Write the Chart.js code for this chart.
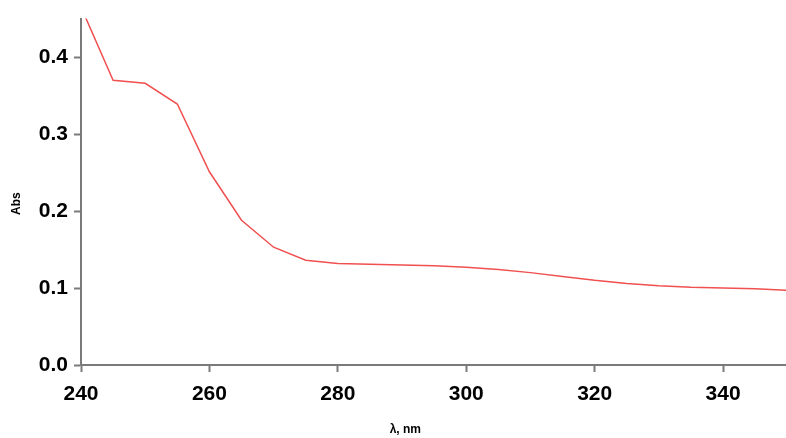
<!DOCTYPE html>
<html>
<head>
<meta charset="utf-8">
<style>
  html, body { margin: 0; padding: 0; background: #fff; }
  canvas { display: block; }
</style>
<script src="https://cdn.jsdelivr.net/npm/chart.js@4/dist/chart.umd.min.js"></script>
</head>
<body>
<canvas id="chart" width="786" height="438"></canvas>
<script>
// wavelength (nm) and absorbance
const wavelengths = [240, 245, 250, 255, 260, 265, 270, 275, 280, 285, 290, 295,
                     300, 305, 310, 315, 320, 325, 330, 335, 340, 345, 350];
const absorbance = [0.465, 0.370, 0.366, 0.339, 0.251, 0.188, 0.153, 0.136, 0.132, 0.131, 0.130, 0.129,
                    0.127, 0.124, 0.120, 0.115, 0.110, 0.106, 0.103, 0.101, 0.100, 0.099, 0.097];
const xTicks = [240, 260, 280, 300, 320, 340];
const yTicks = [0.0, 0.1, 0.2, 0.3, 0.4];

const tickFont = { family: "'Liberation Sans', Arial, sans-serif", size: 21, weight: "bold" };
const titleFont = "bold 12px 'Liberation Sans', Arial, sans-serif";

// axis titles, placed like the original plot
const axisTitles = {
    id: "axisTitles",
    afterDraw(chart) {
        const ctx = chart.ctx;
        const area = chart.chartArea;
        ctx.save();
        ctx.fillStyle = "#000";
        ctx.font = titleFont;
        ctx.textAlign = "center";
        ctx.textBaseline = "middle";
        ctx.fillText("λ, nm", area.left + (area.right - area.left) * 0.46, 430);
        ctx.translate(17, area.top + (area.bottom - area.top) * 0.534);
        ctx.rotate(-Math.PI / 2);
        ctx.fillText("Abs", 0, 0);
        ctx.restore();
    }
};

new Chart(document.getElementById("chart").getContext("2d"), {
    type: "line",
    data: {
        datasets: [{
            data: wavelengths.map((w, i) => ({ x: w, y: absorbance[i] })),
            borderColor: "#f0504f",
            borderWidth: 1.5,
            pointRadius: 0,
            tension: 0,
            fill: false
        }]
    },
    options: {
        responsive: false,
        animation: false,
        layout: { padding: { top: 18, right: 0, left: 0, bottom: 0 } },
        plugins: { legend: { display: false }, tooltip: { enabled: false } },
        scales: {
            x: {
                type: "linear",
                min: 240,
                max: 349.8,
                afterBuildTicks: (axis) => { axis.ticks = xTicks.map(v => ({ value: v })); },
                afterFit: (axis) => { axis.height = 73; },
                border: { color: "#7a7a7a", width: 2 },
                grid: { drawOnChartArea: false, tickLength: 7, color: "#7a7a7a", tickWidth: 2 },
                ticks: { color: "#000", font: tickFont, padding: 10, maxRotation: 0 }
            },
            y: {
                min: 0,
                max: 0.45,
                afterBuildTicks: (axis) => { axis.ticks = yTicks.map(v => ({ value: v })); },
                afterFit: (axis) => { axis.width = 81; },
                border: { color: "#7a7a7a", width: 2 },
                grid: { drawOnChartArea: false, tickLength: 7, color: "#7a7a7a", tickWidth: 2 },
                ticks: { color: "#000", font: tickFont, padding: 6, callback: (v) => v.toFixed(1) }
            }
        }
    },
    plugins: [axisTitles]
});
</script>
</body>
</html>
